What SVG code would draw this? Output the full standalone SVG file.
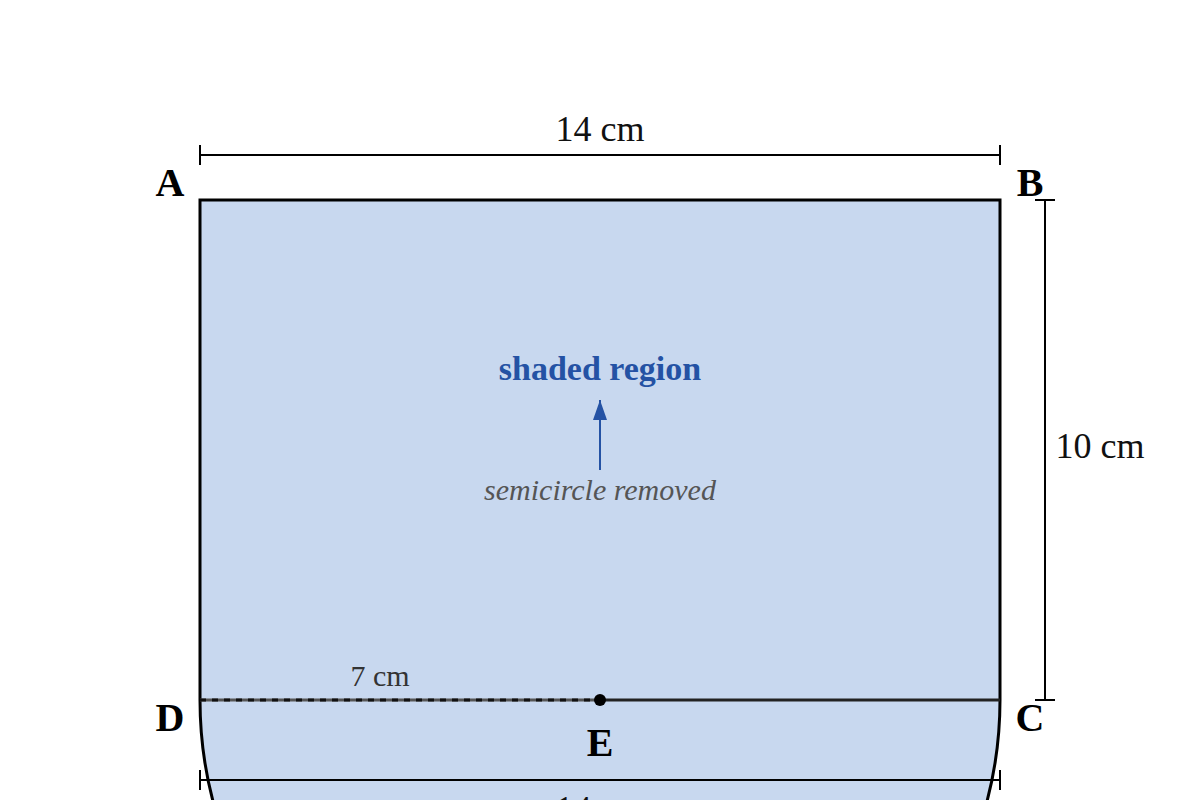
<svg xmlns="http://www.w3.org/2000/svg" width="1200" height="800" viewBox="0 0 1200 800">
<defs>
<style>
.lbl{font-family:"Liberation Serif","Times New Roman",serif;font-weight:bold;font-size:40px;fill:#000;text-anchor:middle}
.dim{font-family:"Liberation Serif","Times New Roman",serif;font-size:36px;fill:#111;text-anchor:middle}
.dl{stroke:#000;stroke-width:2;fill:none}
</style>
<marker id="arr" viewBox="0 0 20 14" refX="20" refY="7" markerWidth="20" markerHeight="14" orient="auto" markerUnits="userSpaceOnUse">
<path d="M0,0 L20,7 L0,14 z" fill="#2452a4"/>
</marker>
</defs>
<rect width="1200" height="800" fill="#fff"/>
<g id="shape">
<path d="M200,200 H1000 V700 A400,400 0 0 1 200,700 Z" fill="#c8d8ef" stroke="none"/>
<path d="M200,700 V200 H1000 V700" fill="none" stroke="#000" stroke-width="3"/>
<path d="M1000,700 A400,400 0 0 1 200,700" fill="none" stroke="#000" stroke-width="3"/>
</g>
<g id="connectors">
<line x1="600" y1="700" x2="1000" y2="700" stroke="#222" stroke-width="3"/>
<line x1="200" y1="700" x2="600" y2="700" stroke="#555" stroke-width="3"/>
<line x1="200" y1="700" x2="600" y2="700" stroke="#111" stroke-width="3" stroke-dasharray="6 6"/>
<line x1="600" y1="470" x2="600" y2="400" stroke="#2452a4" stroke-width="2" marker-end="url(#arr)"/>
</g>
<g id="dim-top">
<line class="dl" x1="200" y1="155" x2="1000" y2="155"/>
<line class="dl" x1="200" y1="145" x2="200" y2="165"/>
<line class="dl" x1="1000" y1="145" x2="1000" y2="165"/>
<text class="dim" x="600" y="141">14 cm</text>
</g>
<g id="dim-right">
<line class="dl" x1="1045" y1="200" x2="1045" y2="700"/>
<line class="dl" x1="1035" y1="200" x2="1055" y2="200"/>
<line class="dl" x1="1035" y1="700" x2="1055" y2="700"/>
<text class="dim" x="1100" y="458">10 cm</text>
</g>
<g id="dim-bottom">
<line class="dl" x1="200" y1="780" x2="1000" y2="780"/>
<line class="dl" x1="200" y1="770" x2="200" y2="790"/>
<line class="dl" x1="1000" y1="770" x2="1000" y2="790"/>
<text class="dim" x="600" y="821">14 cm</text>
</g>
<g id="E">
<circle cx="600" cy="700" r="6" fill="#000"/>
<text class="lbl" x="600" y="756">E</text>
</g>
<g id="A"><text class="lbl" x="170" y="196">A</text></g>
<g id="B"><text class="lbl" x="1030" y="196">B</text></g>
<g id="C"><text class="lbl" x="1030" y="731">C</text></g>
<g id="D"><text class="lbl" x="170" y="731">D</text></g>
<g id="radius">
<text x="380" y="686" font-family="Liberation Serif, serif" font-size="30" fill="#333" text-anchor="middle">7 cm</text>
</g>
<g id="shaded">
<text x="600" y="380" font-family="Liberation Serif, serif" font-size="34" font-weight="bold" fill="#2452a4" text-anchor="middle">shaded region</text>
</g>
<g id="removed">
<text x="600" y="500" font-family="Liberation Serif, serif" font-size="30" font-style="italic" fill="#555" text-anchor="middle">semicircle removed</text>
</g>
</svg>
